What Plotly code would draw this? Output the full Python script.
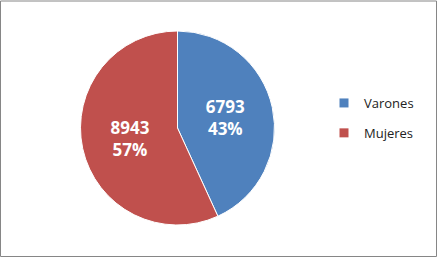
import plotly.graph_objects as go

labels = ["Varones", "Mujeres"]
values = [6793, 8943]
colors = ["#4F81BD", "#C0504D"]

W, H = 438, 257
cx, cy, r = 177.5, 128, 97

fig = go.Figure(go.Pie(
    labels=labels,
    values=values,
    sort=False,
    direction="clockwise",
    rotation=0,
    marker=dict(colors=colors, line=dict(color="white", width=1)),
    texttemplate="%{value}<br>%{percent:.0%}",
    textposition="inside",
    insidetextorientation="horizontal",
    textfont=dict(family="Open Sans", size=17, color="white", weight="bold"),
    domain=dict(x=[(cx - r) / W, (cx + r) / W], y=[(H - cy - r) / H, (H - cy + r) / H]),
    hoverinfo="skip",
    showlegend=False,
))

# legend entries (one per category)
for lab, col in zip(labels, colors):
    fig.add_trace(go.Scatter(
        x=[None], y=[None], mode="markers", name=lab, legendgroup=lab,
        marker=dict(symbol="square", size=9, color=col),
    ))

fig.update_layout(
    width=W, height=H,
    margin=dict(l=0, r=0, t=0, b=0),
    paper_bgcolor="white",
    plot_bgcolor="white",
    xaxis=dict(visible=False),
    yaxis=dict(visible=False),
    showlegend=True,
    legend=dict(
        x=324 / W, y=(H - 88) / H, xanchor="left", yanchor="top",
        font=dict(family="Open Sans", size=13, color="#222222"),
        itemwidth=30, tracegroupgap=10, traceorder="grouped",
        bgcolor="rgba(0,0,0,0)",
    ),
    shapes=[dict(type="rect", xref="paper", yref="paper",
                 x0=0.5 / W, x1=436.5 / W, y0=0.5 / H, y1=(H - 1) / H,
                 line=dict(color="#868686", width=1))],
)

fig.write_html("out.html")
